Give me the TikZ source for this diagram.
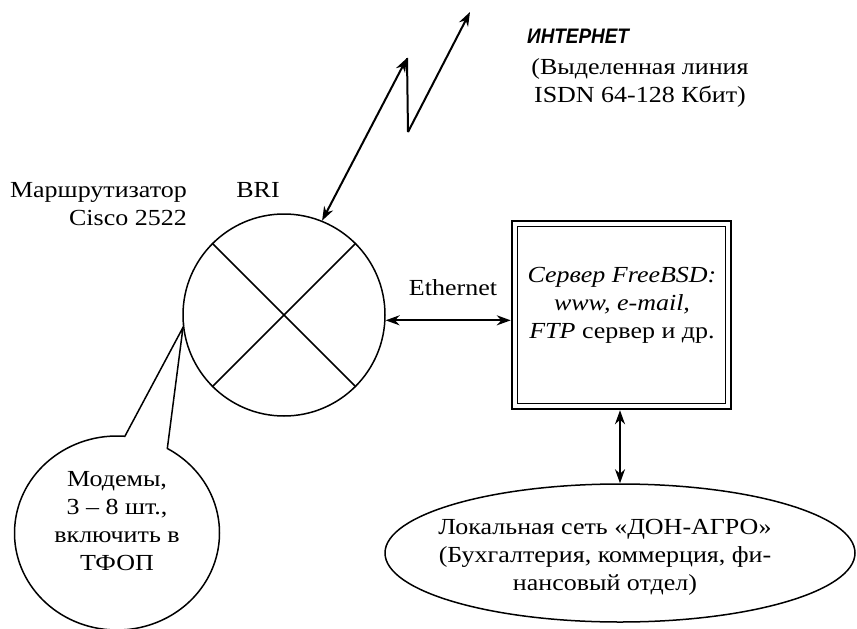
\documentclass[tikz,border=0pt]{standalone}
\usepackage{fontspec}
\setmainfont{Liberation Serif}[FakeStretch=1.13]
\newfontfamily\inetfont{Liberation Sans}[FakeStretch=0.9]
\usetikzlibrary{positioning,arrows.meta,shapes.geometric,shapes.callouts}

\begin{document}
\begin{tikzpicture}[
    x=1pt, y=-1pt,
    >={Stealth[length=14pt,width=10pt]},
    font=\fontsize{23}{28}\selectfont,
    ln/.style={line width=1.5pt},
    link/.style={line width=2pt, <->},
    lbl/.style={inner sep=0pt, align=center},
  ]
  \useasboundingbox (0,0) rectangle (857,629);

  % router
  \node[ln, draw, circle, minimum size=202pt, inner sep=0pt] (router) at (284,315) {};
  \draw[ln] (router.45) -- (router.225);
  \draw[ln] (router.135) -- (router.-45);
  \node[lbl, anchor=east, align=right] (rname) at (187,204) {Маршрутизатор\\Cisco 2522};
  \node[lbl] (bri) at (258,190) {BRI};

  % ISDN line
  \coordinate (z1) at (407,58);
  \coordinate (z2) at (408,132);
  \coordinate (z3) at (470,12);
  \draw[link] (router.68) -- (z1);
  \draw[line width=2pt] (z1) -- (z2);
  \draw[link, ->] (z2) -- (z3);
  \node[lbl, anchor=west, font=\fontsize{21}{24}\inetfont\bfseries\itshape] (inet) at (527,36) {ИНТЕРНЕТ};
  \node[lbl] (isdn) at (640,83) {(Выделенная линия\\ISDN 64-128 Кбит)};

  % server
  \node[draw, line width=2.5pt, minimum width=219pt, minimum height=188pt, inner sep=0pt] (srv) at (621.5,315) {};
  \draw[line width=1.2pt] ([shift={(7,7)}]srv.north west) rectangle ([shift={(-7,-7)}]srv.south east);
  \node[lbl] (srvtxt) at (622,305) {\textit{Сервер FreeBSD:}\\\textit{www, e-mail,}\\\textit{FTP} сервер и др.};
  \draw[link] (router.-3) -- (router.-3 -| srv.west);
  \node[lbl] (eth) at (453,288) {Ethernet};

  % LAN
  \node[ln, draw, ellipse, minimum width=470pt, minimum height=138pt, inner sep=0pt] (lan) at (620,553) {};
  \node[lbl] (lantxt) at (605,557) {Локальная сеть «ДОН-АГРО»\\(Бухгалтерия, коммерция, фи-\\нансовый отдел)};
  \draw[link] (lan.north) -- (lan.north |- srv.south);

  % modems
  \node[ln, draw, ellipse callout, minimum width=205pt, minimum height=194pt, inner sep=0pt,
        callout absolute pointer={(router.187)}, callout pointer arc=25] (modem) at (117,533) {};
  \node[lbl] (modtxt) at (117,521) {Модемы,\\3 – 8 шт.,\\включить в\\ТФОП};
\end{tikzpicture}
\end{document}
